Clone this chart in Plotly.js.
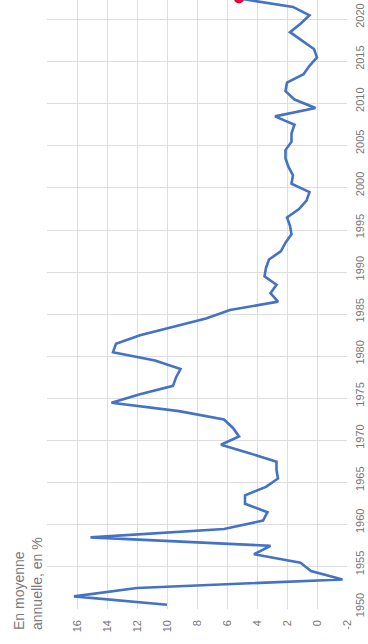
<!DOCTYPE html>
<html>
<head>
<meta charset="utf-8">
<script src="https://cdn.plot.ly/plotly-3.0.1.min.js"></script>
<style>
  html, body { margin: 0; padding: 0; background: #ffffff; overflow: hidden; }
  body { width: 368px; height: 644px; position: relative; }
  /* The chart is laid out landscape and turned a quarter turn counter-clockwise */
  #chart {
    position: absolute; left: 0; top: 0;
    width: 680px; height: 368px;
    transform-origin: 0 0;
    transform: translateY(644px) rotate(-90deg);
  }
</style>
</head>
<body>
<div id="chart"></div>
<script>
// Annual consumer price inflation, France (annual average, %)
const years = [
  1950, 1951, 1952, 1953, 1954, 1955, 1956, 1957, 1958, 1959,
  1960, 1961, 1962, 1963, 1964, 1965, 1966, 1967, 1968, 1969,
  1970, 1971, 1972, 1973, 1974, 1975, 1976, 1977, 1978, 1979,
  1980, 1981, 1982, 1983, 1984, 1985, 1986, 1987, 1988, 1989,
  1990, 1991, 1992, 1993, 1994, 1995, 1996, 1997, 1998, 1999,
  2000, 2001, 2002, 2003, 2004, 2005, 2006, 2007, 2008, 2009,
  2010, 2011, 2012, 2013, 2014, 2015, 2016, 2017, 2018, 2019,
  2020, 2021, 2022
];
const inflation = [
  10.0, 16.2, 12.0, -1.7, 0.4, 1.1, 4.2, 3.1, 15.1, 6.2,
  3.6, 3.3, 4.8, 4.8, 3.4, 2.6, 2.7, 2.7, 4.5, 6.4,
  5.2, 5.6, 6.2, 9.2, 13.7, 11.8, 9.6, 9.4, 9.1, 10.8,
  13.6, 13.4, 11.8, 9.6, 7.4, 5.8, 2.6, 3.1, 2.7, 3.5,
  3.4, 3.2, 2.4, 2.1, 1.7, 1.8, 2.0, 1.2, 0.7, 0.5,
  1.7, 1.6, 1.9, 2.1, 2.1, 1.7, 1.7, 1.5, 2.8, 0.1,
  1.5, 2.1, 2.0, 0.9, 0.5, 0.0, 0.2, 1.0, 1.8, 1.1,
  0.5, 1.6, 5.2
];
// Value-axis ticks; the top gridline carries no label
const valueTicks = [-2, 0, 2, 4, 6, 8, 10, 12, 14, 16, 18];
const valueTickText = ['-2', '0', '2', '4', '6', '8', '10', '12', '14', '16', ''];
const unitLabel = 'En moyenne<br>annuelle, en %';

const yearDates = years.map(String);
const lastIdx = years.length - 1;

const tickFont = { family: 'Liberation Sans, Arial, sans-serif', size: 11, color: '#777777' };

const traces = [
  {
    type: 'scatter', mode: 'lines',
    x: yearDates, y: inflation,
    xperiod: 'M12', xperiodalignment: 'middle',
    line: { color: '#4472c4', width: 2.6 },
    hoverinfo: 'skip'
  },
  {
    type: 'scatter', mode: 'markers',
    x: [yearDates[lastIdx]], y: [inflation[lastIdx]],
    xperiod: 'M12', xperiodalignment: 'middle',
    marker: { color: '#e3003b', size: 10 },
    hoverinfo: 'skip'
  }
];

const layout = {
  width: 680, height: 368,
  margin: { l: 35, r: 5, t: 47, b: 21 },
  paper_bgcolor: '#ffffff', plot_bgcolor: '#ffffff',
  showlegend: false,
  title: {
    text: unitLabel,
    font: { family: 'Liberation Sans, Arial, sans-serif', size: 14, color: '#7a7a7a' },
    xref: 'container', yref: 'container',
    x: 14 / 680, xanchor: 'left',
    y: 1 - 24 / 368, yanchor: 'top'
  },
  xaxis: {
    type: 'date',
    range: ['1950-01-01', '2026-01-01'],
    tick0: '1950-01-01', dtick: 'M60',
    tickformat: '%Y',
    showgrid: true, gridcolor: '#dedede', gridwidth: 1,
    zeroline: false, showline: false, ticks: '',
    tickfont: tickFont,
    ticklabelshift: 4,
    ticklabelstandoff: 5,
    fixedrange: true
  },
  yaxis: {
    range: [-2, 18],
    tickmode: 'array', tickvals: valueTicks, ticktext: valueTickText,
    showgrid: true, gridcolor: '#dedede', gridwidth: 1,
    zeroline: false, showline: false, ticks: '',
    tickfont: tickFont,
    ticklabelstandoff: 10,
    fixedrange: true
  }
};

Plotly.newPlot('chart', traces, layout, { staticPlot: true, displayModeBar: false });
</script>
</body>
</html>
